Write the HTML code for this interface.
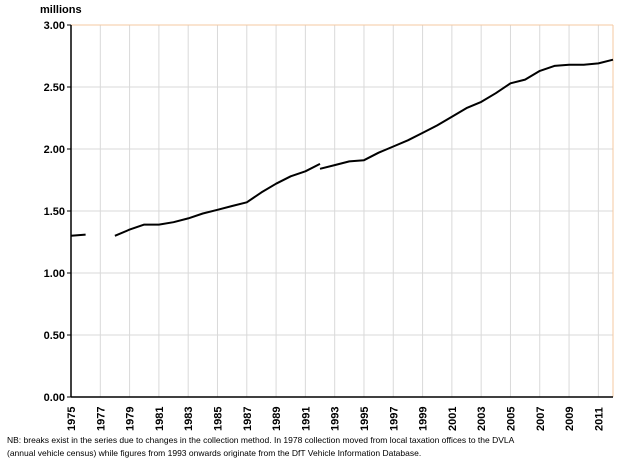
<!DOCTYPE html>
<html><head><meta charset="utf-8"><style>
body{margin:0;background:#fff;}
svg{display:block;font-family:"Liberation Sans",Arial,sans-serif;}
</style></head><body>
<svg id="chart" width="624" height="461" viewBox="0 0 624 461"></svg>
<script>
const years=[1975,1976,1977,1978,1979,1980,1981,1982,1983,1984,1985,1986,1987,1988,1989,1990,1991,1992,1993,1994,1995,1996,1997,1998,1999,2000,2001,2002,2003,2004,2005,2006,2007,2008,2009,2010,2011,2012];
const seriesA=[1.30,1.31,null,null,null,null,null,null,null,null,null,null,null,null,null,null,null,null,null,null,null,null,null,null,null,null,null,null,null,null,null,null,null,null,null,null,null,null];
const seriesB=[null,null,null,1.30,1.35,1.39,1.39,1.41,1.44,1.48,1.51,1.54,1.57,1.65,1.72,1.78,1.82,1.88,null,null,null,null,null,null,null,null,null,null,null,null,null,null,null,null,null,null,null,null];
const seriesC=[null,null,null,null,null,null,null,null,null,null,null,null,null,null,null,null,null,1.84,1.87,1.90,1.91,1.97,2.02,2.07,2.13,2.19,2.26,2.33,2.38,2.45,2.53,2.56,2.63,2.67,2.68,2.68,2.69,2.72];
const yTicks=[0,0.5,1,1.5,2,2.5,3];
const xTickYears=[1975,1977,1979,1981,1983,1985,1987,1989,1991,1993,1995,1997,1999,2001,2003,2005,2007,2009,2011];

const L=71,R=613,T=25,B=397;
const x=y=>L+(y-1975)*(R-L)/(2012-1975);
const yS=v=>B-v/3*(B-T);
const svg=document.getElementById('chart');
const NS='http://www.w3.org/2000/svg';
function mk(t,a){const e=document.createElementNS(NS,t);for(const k in a)e.setAttribute(k,a[k]);svg.appendChild(e);return e;}

xTickYears.forEach(yr=>{
  const g=mk('line',{x1:x(yr),x2:x(yr),y1:T,y2:B,stroke:'#d9d9d9','stroke-width':1});
  
  
  const t=mk('text',{x:0,y:0,'font-size':11,'font-weight':'bold',transform:`translate(${x(yr)+4},${B+34}) rotate(-90)`});
  t.textContent=yr;
  
  
});
yTicks.forEach(v=>{
  if(v>0&&v<3){const g=mk('line',{x1:L,x2:R,y1:yS(v),y2:yS(v),stroke:'#d9d9d9','stroke-width':1});
  
  }
  const tk=mk('line',{x1:L-4,x2:L,y1:yS(v),y2:yS(v),stroke:'#000'});
  
  
  const t=mk('text',{x:L-6,y:yS(v)+4,'font-size':11,'font-weight':'bold','text-anchor':'end'});
  t.textContent=v.toFixed(2);
  
  
});
const tb=mk('line',{x1:L,x2:R,y1:T,y2:T,stroke:'#f5c8a0'});


const rb=mk('line',{x1:R,x2:R,y1:T,y2:B,stroke:'#f5c8a0'});


const ya=mk('line',{x1:L,x2:L,y1:T,y2:B,stroke:'#000','stroke-width':1.5});


const xa=mk('line',{x1:L,x2:R,y1:B,y2:B,stroke:'#000','stroke-width':1.5});



[seriesA,seriesB,seriesC].forEach((s,i)=>{
  const pts=[];s.forEach((v,j)=>{if(v!=null)pts.push(x(years[j]).toFixed(1)+','+yS(v).toFixed(1));});
  const p=mk('polyline',{points:pts.join(' '),fill:'none',stroke:'#000','stroke-width':2,'stroke-linejoin':'round'});
  
  
});

const u=mk('text',{x:40,y:13,'font-size':11,'font-weight':'bold'});
u.textContent='millions';


const n1=mk('text',{x:7,y:443,'font-size':8.5});
n1.textContent='NB: breaks exist in the series due to changes in the collection method. In 1978 collection moved from local taxation offices to the DVLA';


const n2=mk('text',{x:7,y:456,'font-size':8.5});
n2.textContent='(annual vehicle census) while figures from 1993 onwards originate from the DfT Vehicle Information Database.';


</script>
</body></html>
